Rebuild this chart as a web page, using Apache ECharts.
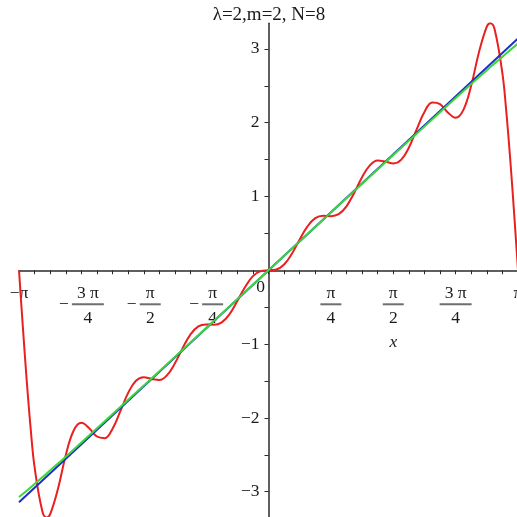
<!DOCTYPE html>
<html>
<head>
<meta charset="utf-8">
<script src="https://cdn.jsdelivr.net/npm/echarts@6/dist/echarts.min.js"></script>
<style>
  html, body { margin: 0; padding: 0; background: #ffffff; }
  #chart { width: 517px; height: 517px; }
</style>
</head>
<body>
<div id="chart"></div>
<script>
// Partial Fourier sum (red), sampled on [-pi, pi]
const redX = [
  -3.14159, -3.09251, -3.04342, -2.99433, -2.94524, -2.84707, -2.79253, -2.74889,
  -2.65072, -2.55254, -2.45437, -2.35619, -2.25802, -2.15984, -2.06167, -1.96350,
  -1.86532, -1.76715, -1.66897, -1.57080, -1.47262, -1.37445, -1.27627, -1.17810,
  -1.07992, -0.98175, -0.88357, -0.78540, -0.68722, -0.58905, -0.49087, -0.39270,
  -0.29452, -0.19635, -0.09817, 0,
  0.09817, 0.19635, 0.29452, 0.39270, 0.49087, 0.58905, 0.68722, 0.78540,
  0.88357, 0.98175, 1.07992, 1.17810, 1.27627, 1.37445, 1.47262, 1.57080,
  1.66897, 1.76715, 1.86532, 1.96350, 2.06167, 2.15984, 2.25802, 2.35619,
  2.45437, 2.55254, 2.65072, 2.74889, 2.79253, 2.84707, 2.94524, 2.99433,
  3.04342, 3.09251, 3.14159
];
const redY = [
  0, -0.777, -1.508, -2.149, -2.668, -3.267, -3.348, -3.303,
  -2.959, -2.505, -2.174, -2.067, -2.139, -2.252, -2.274, -2.146,
  -1.909, -1.661, -1.496, -1.448, -1.472, -1.487, -1.421, -1.261,
  -1.051, -0.867, -0.760, -0.734, -0.738, -0.706, -0.595, -0.417,
  -0.225, -0.079, -0.011, 0,
  0.011, 0.079, 0.225, 0.417, 0.595, 0.706, 0.738, 0.734,
  0.760, 0.867, 1.051, 1.261, 1.421, 1.487, 1.472, 1.448,
  1.496, 1.661, 1.909, 2.146, 2.274, 2.252, 2.139, 2.067,
  2.174, 2.505, 2.959, 3.303, 3.348, 3.267, 2.668, 2.149,
  1.508, 0.777, 0
];

// Target function y = x (blue)
const blueX = [-3.14159, 3.14159];
const blueY = [-3.14159, 3.14159];

// Smoothed approximation (green)
const greenX = [-3.14159, -3.0, -2.75, -2.5, -2.0, -1.5, -1.0, -0.5, 0, 0.5, 1.0, 1.5, 2.0, 2.5, 2.75, 3.0, 3.14159];
const greenY = [-3.072, -2.945, -2.712, -2.474, -1.984, -1.492, -0.996, -0.499, 0, 0.499, 0.996, 1.492, 1.984, 2.474, 2.712, 2.945, 3.072];

// Axis ticks and labels
const yTickValues = [-3, -2.5, -2, -1.5, -1, -0.5, 0, 0.5, 1, 1.5, 2, 2.5, 3];
const yLabelValues = [-3, -2, -1, 1, 2, 3];
const yLabelText = ['\u22123', '\u22122', '\u22121', '1', '2', '3'];

const xTickSixteenths = [];
for (let k = -16; k <= 16; k++) xTickSixteenths.push(k);
const xLabelQuarters = [-4, -3, -2, -1, 0, 1, 2, 3, 4];
const xLabelText = [
  '{s|\u2212\u03c0}',
  '{sp| }{n|3 \u03c0}\n{m|\u2212}{bw| }\n{sp| }{d|4}',
  '{sp| }{n|\u03c0}\n{m|\u2212}{bn| }\n{sp| }{d|2}',
  '{sp| }{n|\u03c0}\n{m|\u2212}{bn| }\n{sp| }{d|4}',
  '{z|0}',
  '{n|\u03c0}\n{bn| }\n{d|4}',
  '{n|\u03c0}\n{bn| }\n{d|2}',
  '{n|3 \u03c0}\n{bw| }\n{d|4}',
  '{s|\u03c0}'
];

const SERIF = '"Liberation Serif", "Times New Roman", serif';
const TEXT = '#1a1a1a';
const AXIS = '#2a2a2a';
const LABEL_SIZE = 17.5;

// Plot box and value ranges
const X_MIN = -Math.PI, X_MAX = Math.PI;
const Y_MIN = -3.348, Y_MAX = 3.348;
const BOX = { left: 19, top: 23.2, width: 499, height: 494.2 };
// Axes cross at the origin: shift each axis from the box edge onto the zero line
const xAxisShift = -BOX.height * (0 - Y_MIN) / (Y_MAX - Y_MIN);
const yAxisShift = -BOX.width * (0 - X_MIN) / (X_MAX - X_MIN);

const zip = (xs, ys) => xs.map((x, i) => [x, ys[i]]);

const chart = echarts.init(document.getElementById('chart'), null, { renderer: 'canvas' });

chart.setOption({
  animation: false,
  backgroundColor: '#ffffff',
  title: {
    text: '\u03bb=2,m=2, N=8',
    left: 264,
    top: 1,
    textAlign: 'center',
    textStyle: { fontFamily: SERIF, fontSize: 19, fontWeight: 'normal', color: TEXT }
  },
  grid: {
    left: BOX.left, top: BOX.top, width: BOX.width, height: BOX.height,
    containLabel: false, outerBoundsMode: 'none'
  },
  xAxis: {
    type: 'value',
    position: 'bottom',
    offset: xAxisShift,
    min: X_MIN,
    max: X_MAX,
    name: 'x',
    nameLocation: 'middle',
    nameGap: 64,
    nameTextStyle: {
      fontFamily: SERIF, fontStyle: 'italic', fontSize: LABEL_SIZE, color: TEXT,
      lineHeight: 16, padding: [0, 0, 0, 250]
    },
    splitLine: { show: false },
    axisLine: { show: true, onZero: false, lineStyle: { color: AXIS, width: 1.5 } },
    axisTick: {
      show: true, inside: false, length: 4,
      customValues: xTickSixteenths.map(k => k * Math.PI / 16),
      lineStyle: { color: AXIS, width: 1 }
    },
    axisLabel: {
      show: true,
      margin: 15.5,
      showMinLabel: true,
      showMaxLabel: true,
      hideOverlap: false,
      customValues: xLabelQuarters.map(q => q * Math.PI / 4),
      formatter: v => xLabelText[Math.round(v / (Math.PI / 4)) + 4],
      fontFamily: SERIF,
      color: TEXT,
      rich: {
        s:  { fontFamily: SERIF, fontSize: LABEL_SIZE, lineHeight: 15, color: TEXT },
        z:  { fontFamily: SERIF, fontSize: LABEL_SIZE, lineHeight: 4, color: TEXT, padding: [0, 16, 0, 0] },
        n:  { fontFamily: SERIF, fontSize: LABEL_SIZE, lineHeight: 15, color: TEXT },
        d:  { fontFamily: SERIF, fontSize: LABEL_SIZE, lineHeight: 22, color: TEXT },
        m:  { fontFamily: SERIF, fontSize: LABEL_SIZE, lineHeight: 7, color: TEXT, width: 13, align: 'left' },
        sp: { fontFamily: SERIF, fontSize: LABEL_SIZE, lineHeight: 15, width: 13 },
        bw: { width: 32, height: 2, lineHeight: 7, backgroundColor: '#6e6e6e' },
        bn: { width: 21, height: 2, lineHeight: 7, backgroundColor: '#6e6e6e' }
      }
    }
  },
  yAxis: {
    type: 'value',
    position: 'left',
    offset: yAxisShift,
    min: Y_MIN,
    max: Y_MAX,
    splitLine: { show: false },
    axisLine: { show: true, onZero: false, lineStyle: { color: AXIS, width: 1.5 } },
    axisTick: {
      show: true, inside: false, length: 4,
      customValues: yTickValues,
      lineStyle: { color: AXIS, width: 1 }
    },
    axisLabel: {
      show: true,
      margin: 9,
      customValues: yLabelValues,
      formatter: v => yLabelText[yLabelValues.indexOf(v)],
      fontFamily: SERIF,
      fontSize: LABEL_SIZE,
      color: TEXT
    }
  },
  series: [
    {
      name: 'S8', type: 'line', data: zip(redX, redY), smooth: 0.4,
      showSymbol: false, symbol: 'none',
      lineStyle: { color: '#ea1f1f', width: 2 }, z: 2
    },
    {
      name: 'x', type: 'line', data: zip(blueX, blueY),
      showSymbol: false, symbol: 'none',
      lineStyle: { color: '#1f2fc4', width: 2 }, z: 3
    },
    {
      name: 'approx', type: 'line', data: zip(greenX, greenY), smooth: true,
      showSymbol: false, symbol: 'none',
      lineStyle: { color: '#3ad63a', width: 2 }, z: 4
    }
  ]
});
</script>
</body>
</html>
